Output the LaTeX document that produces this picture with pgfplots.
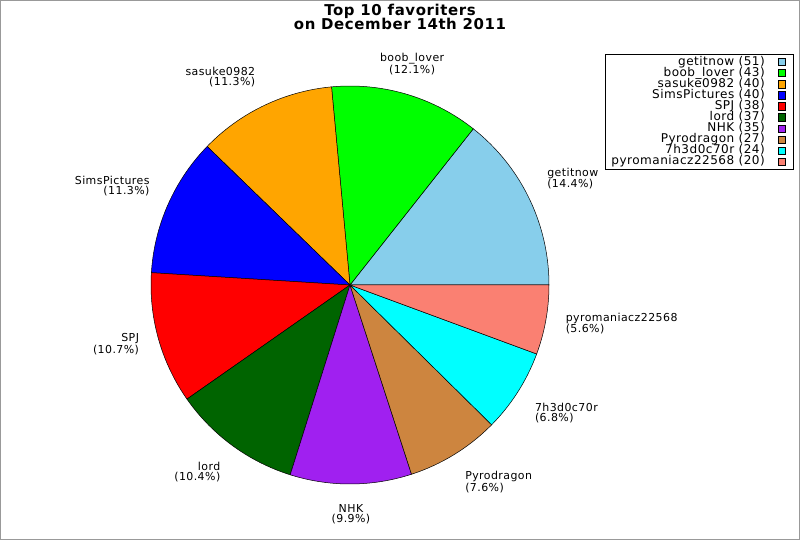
\documentclass[border=0pt]{standalone}
\usepackage{fontspec}
\setmainfont{DejaVu Sans}[LetterSpace=4]
\usepackage{pgfplots}
\pgfplotsset{compat=1.18}

\definecolor{skyblue}{RGB}{135,206,235}
\definecolor{lime}{RGB}{0,255,0}
\definecolor{orange}{RGB}{255,165,0}
\definecolor{darkgreen}{RGB}{0,100,0}
\definecolor{purple}{RGB}{160,32,240}
\definecolor{peru}{RGB}{205,133,63}
\definecolor{salmon}{RGB}{250,128,114}
\definecolor{cyan}{RGB}{0,255,255}
\definecolor{blue}{RGB}{0,0,255}
\definecolor{red}{RGB}{255,0,0}

\newcommand{\labelfont}{\fontsize{11}{10.4}\selectfont}

% slice from count #1 to count #2 (total 355) in colour #3
\newcommand{\pieslice}[3]{%
  \addplot[draw=black, line width=0.5bp, fill=#3, forget plot,
    domain=#1:#2, samples=40, variable=\t]
    ({350+199*cos(\t*360/355)}, {255+199*sin(\t*360/355)})
    -- (axis cs:350,255) -- cycle;}

% label at mid count #1, anchor #2, alignment #3
\newcommand{\pielabel}[4]{%
  \node[anchor=#2, align=#3, inner sep=0pt, font=\labelfont]
    at (axis cs:{350+219*cos(#1*360/355)},{255+219*sin(#1*360/355)}) {#4};}

\begin{document}
\begin{tikzpicture}
\useasboundingbox (0,0) rectangle (800bp,540bp);
\fill[white] (0,0) rectangle (800bp,540bp);
\begin{axis}[
  at={(0,0)}, anchor=south west,
  x=1bp, y=1bp,
  xmin=0, xmax=800, ymin=0, ymax=540,
  hide axis, clip=false,
  legend plot pos=right,
  legend cell align=right,
  legend image code/.code={%
    \path (0bp,0bp) (22bp,0bp);
    \draw[#1, line width=0.7bp] (13bp,-3.7bp) rectangle (20bp,3.7bp);},
  legend style={
    at={(axis description cs:0.9925,0.9)}, anchor=north east,
    draw=black, line width=0.8bp,
    font=\fontsize{12.1}{11}\selectfont,
    inner xsep=6bp, inner ysep=2bp,
    row sep=0pt, column sep=0pt,
    nodes={inner sep=0pt, text height=8.6bp, text depth=2.5bp},
  },
]
% counts: getitnow 51, boob_lover 43, sasuke0982 40, SimsPictures 40, SPJ 38,
% lord 37, NHK 35, Pyrodragon 27, 7h3d0c70r 24, pyromaniacz22568 20
\pieslice{0}{51}{skyblue}
\pieslice{51}{94}{lime}
\pieslice{94}{134}{orange}
\pieslice{134}{174}{blue}
\pieslice{174}{212}{red}
\pieslice{212}{249}{darkgreen}
\pieslice{249}{284}{purple}
\pieslice{284}{311}{peru}
\pieslice{311}{335}{cyan}
\pieslice{335}{355}{salmon}

\addlegendimage{fill=skyblue}   \addlegendentry{getitnow (51)}
\addlegendimage{fill=lime}      \addlegendentry{boob\_lover (43)}
\addlegendimage{fill=orange}    \addlegendentry{sasuke0982 (40)}
\addlegendimage{fill=blue}      \addlegendentry{SimsPictures (40)}
\addlegendimage{fill=red}       \addlegendentry{SPJ (38)}
\addlegendimage{fill=darkgreen} \addlegendentry{lord (37)}
\addlegendimage{fill=purple}    \addlegendentry{NHK (35)}
\addlegendimage{fill=peru}      \addlegendentry{Pyrodragon (27)}
\addlegendimage{fill=cyan}      \addlegendentry{7h3d0c70r (24)}
\addlegendimage{fill=salmon}    \addlegendentry{pyromaniacz22568 (20)}

\pielabel{25.5}{south west}{left}{getitnow\\(14.4\%)}
\pielabel{72.5}{south}{center}{boob\_lover\\(12.1\%)}
\pielabel{114}{south east}{right}{sasuke0982\\(11.3\%)}
\pielabel{154}{south east}{right}{SimsPictures\\(11.3\%)}
\pielabel{193}{east}{right}{SPJ\\(10.7\%)}
\pielabel{230.5}{north east}{right}{lord\\(10.4\%)}
\pielabel{266.5}{north}{center}{NHK\\(9.9\%)}
\pielabel{297.5}{north west}{left}{Pyrodragon\\(7.6\%)}
\pielabel{323}{north west}{left}{7h3d0c70r\\(6.8\%)}
\pielabel{345}{west}{left}{pyromaniacz22568\\(5.6\%)}

\node[anchor=base, font=\fontsize{15}{15}\selectfont\bfseries] at (axis cs:400,524.3) {Top 10 favoriters};
\node[anchor=base, font=\fontsize{15}{15}\selectfont\bfseries] at (axis cs:400,510) {on December 14th 2011};
\end{axis}
\draw[gray!80, line width=1bp] (0.5bp,0.5bp) rectangle (799.5bp,539.5bp);
\end{tikzpicture}
\end{document}
